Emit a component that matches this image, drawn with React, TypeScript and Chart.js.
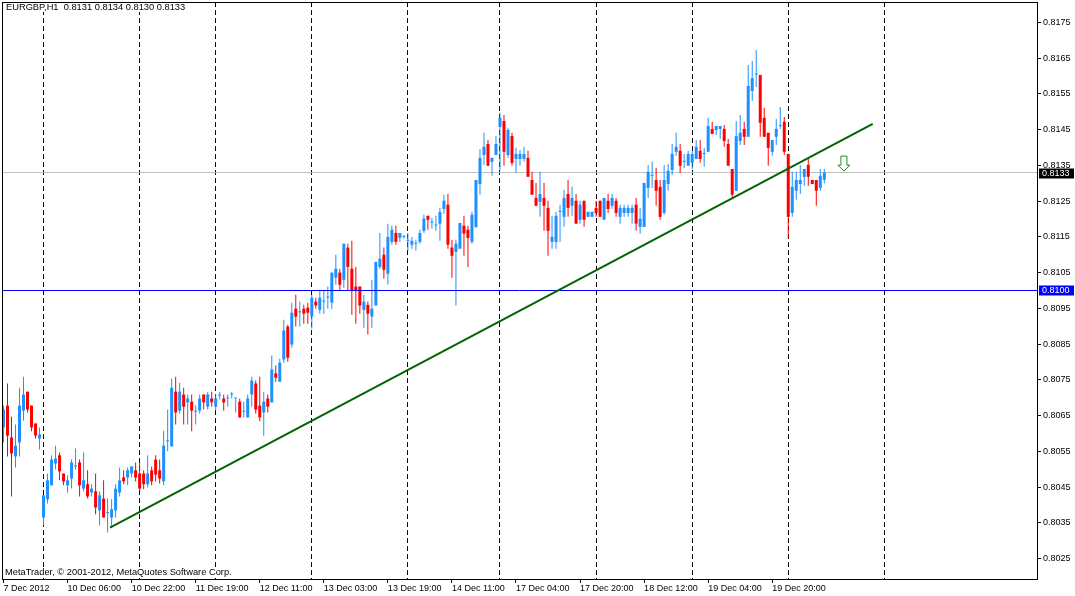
import { useEffect, useRef } from "react";
import { Chart, registerables } from "chart.js";

Chart.register(...registerables);

const symbolLabel = "EURGBP,H1";
const copyright = "MetaTrader, © 2001-2012, MetaQuotes Software Corp.";

const opens = [
  0.80617, 0.80678, 0.80589, 0.80536, 0.80575, 0.80664, 0.80717, 0.80678, 0.80628, 0.80586,
  0.80365, 0.80416, 0.80455, 0.80516, 0.80539, 0.80488, 0.80455, 0.80474, 0.80508, 0.80519,
  0.80446, 0.80458, 0.80435, 0.80438, 0.80385, 0.80418, 0.80377, 0.80365, 0.80385, 0.80435,
  0.80477, 0.80477, 0.80488, 0.80497, 0.80488, 0.80488, 0.80458, 0.80497, 0.80527, 0.80497,
  0.80466, 0.80578, 0.80564, 0.80717, 0.80664, 0.80709, 0.80687, 0.80689, 0.80661, 0.80664,
  0.80709, 0.80675, 0.80698, 0.80675, 0.80706, 0.80698, 0.80698, 0.80709, 0.80698, 0.80689,
  0.80661, 0.80645, 0.80709, 0.8074, 0.80678, 0.80659, 0.80698, 0.80687, 0.80768, 0.80745,
  0.80807, 0.80899, 0.80849, 0.80949, 0.80939, 0.80949, 0.80952, 0.80927, 0.80969, 0.80946,
  0.80969, 0.8098, 0.80966, 0.81036, 0.8105, 0.8103, 0.8112, 0.81061, 0.81011, 0.81011,
  0.80946, 0.8096, 0.80927, 0.80958, 0.81066, 0.811, 0.81047, 0.81136, 0.81161, 0.81147,
  0.8115, 0.81139, 0.81128, 0.81131, 0.81136, 0.81167, 0.81209, 0.8119, 0.81182, 0.81187,
  0.81228, 0.8124, 0.8112, 0.81108, 0.81117, 0.81181, 0.8117, 0.81136, 0.81178, 0.81298,
  0.81379, 0.8141, 0.8136, 0.81379, 0.81458, 0.81474, 0.81379, 0.81432, 0.81368, 0.81368,
  0.81368, 0.81371, 0.81309, 0.81259, 0.81248, 0.81259, 0.81231, 0.81136, 0.81136, 0.8122,
  0.81206, 0.8127, 0.81237, 0.81251, 0.81198, 0.81251, 0.81206, 0.81206, 0.81231, 0.81251,
  0.81198, 0.81251, 0.81237, 0.81251, 0.81206, 0.81217, 0.81217, 0.81217, 0.8124, 0.81178,
  0.81178, 0.81287, 0.81321, 0.81309, 0.8129, 0.81217, 0.81298, 0.81337, 0.81388, 0.81391,
  0.8136, 0.81349, 0.81357, 0.81368, 0.81391, 0.81382, 0.81388, 0.81452, 0.81449, 0.81452,
  0.81452, 0.8141, 0.8134, 0.81279, 0.81418, 0.81452, 0.8143, 0.81558, 0.81604, 0.81603,
  0.81483, 0.81441, 0.81388, 0.8143, 0.8146, 0.81472, 0.81382, 0.81217, 0.81279, 0.81298,
  0.81318, 0.81351, 0.81309, 0.81309, 0.81287, 0.8131,
];

const highs = [
  0.80678, 0.8074, 0.80647, 0.80625, 0.80728, 0.80759, 0.80717, 0.80678, 0.80628, 0.80617,
  0.80427, 0.80488, 0.80539, 0.80566, 0.80547, 0.80488, 0.80483, 0.80527, 0.80558, 0.80527,
  0.80547, 0.80497, 0.80458, 0.80488, 0.80438, 0.80469, 0.80418, 0.80416, 0.80458, 0.80505,
  0.80497, 0.80505, 0.80508, 0.80519, 0.80519, 0.80497, 0.80539, 0.80508, 0.80539, 0.80527,
  0.80608, 0.80667, 0.80754, 0.80759, 0.80742, 0.80728, 0.80709, 0.80709, 0.80678, 0.80709,
  0.80709, 0.80717, 0.80717, 0.80709, 0.80717, 0.80709, 0.80709, 0.80717, 0.80698, 0.80698,
  0.80689, 0.80709, 0.80759, 0.80748, 0.80759, 0.80717, 0.80709, 0.80818, 0.8079, 0.80809,
  0.80918, 0.80904, 0.80966, 0.80988, 0.80969, 0.8096, 0.80966, 0.80988, 0.8098, 0.81002,
  0.81002, 0.81011, 0.8105, 0.811, 0.81061, 0.81131, 0.81131, 0.81139, 0.81066, 0.81011,
  0.80988, 0.80969, 0.8103, 0.8108, 0.81161, 0.8112, 0.81187, 0.81181, 0.81181, 0.81161,
  0.81156, 0.81161, 0.8115, 0.81142, 0.8117, 0.81212, 0.81209, 0.81203, 0.81209, 0.81231,
  0.81268, 0.8127, 0.81142, 0.81142, 0.81189, 0.81209, 0.81181, 0.8122, 0.81309, 0.81396,
  0.81441, 0.81421, 0.81371, 0.81432, 0.81497, 0.81491, 0.81455, 0.81441, 0.81399, 0.81393,
  0.81402, 0.81391, 0.81332, 0.81301, 0.81332, 0.81301, 0.81251, 0.81209, 0.8122, 0.8124,
  0.81282, 0.81309, 0.8129, 0.8127, 0.81251, 0.81251, 0.8122, 0.8122, 0.81251, 0.81251,
  0.81259, 0.8127, 0.8127, 0.81259, 0.8124, 0.8124, 0.8124, 0.8124, 0.81259, 0.81231,
  0.81301, 0.81351, 0.8136, 0.81343, 0.81309, 0.81351, 0.81354, 0.8141, 0.81441, 0.8141,
  0.81382, 0.81391, 0.81391, 0.81421, 0.81421, 0.81399, 0.81483, 0.81472, 0.8146, 0.8146,
  0.81463, 0.81424, 0.8134, 0.81474, 0.81491, 0.81472, 0.81631, 0.81642, 0.81673, 0.81603,
  0.81511, 0.81441, 0.81421, 0.8148, 0.81513, 0.81485, 0.81382, 0.81332, 0.81332, 0.81351,
  0.8134, 0.81368, 0.81309, 0.81309, 0.8134, 0.8134,
];

const lows = [
  0.80575, 0.80536, 0.80424, 0.80505, 0.80536, 0.80636, 0.80659, 0.80606, 0.80586, 0.80555,
  0.80343, 0.80404, 0.80455, 0.80499, 0.80469, 0.80455, 0.80435, 0.80446, 0.80499, 0.80424,
  0.80438, 0.80418, 0.80424, 0.80374, 0.80343, 0.80365, 0.80323, 0.80337, 0.80365, 0.80424,
  0.80458, 0.80455, 0.80477, 0.80466, 0.80438, 0.80444, 0.80449, 0.80455, 0.80466, 0.8046,
  0.80455, 0.8055, 0.80564, 0.80625, 0.80656, 0.80625, 0.80625, 0.80606, 0.80625, 0.80656,
  0.80667, 0.80667, 0.80675, 0.80664, 0.80695, 0.80664, 0.80675, 0.80698, 0.80659, 0.80645,
  0.80645, 0.80645, 0.80675, 0.80656, 0.80634, 0.80594, 0.80659, 0.80687, 0.80745, 0.80745,
  0.80798, 0.80801, 0.8084, 0.80899, 0.80899, 0.80907, 0.80907, 0.80893, 0.80949, 0.80935,
  0.80935, 0.80949, 0.80949, 0.81016, 0.80999, 0.81008, 0.80999, 0.80932, 0.80907, 0.80935,
  0.80896, 0.80877, 0.80896, 0.80958, 0.81061, 0.81033, 0.81016, 0.81128, 0.81128, 0.81136,
  0.81145, 0.81111, 0.81117, 0.81111, 0.81131, 0.81161, 0.8117, 0.81173, 0.81167, 0.81139,
  0.81215, 0.81117, 0.81036, 0.80958, 0.81117, 0.81097, 0.81066, 0.81131, 0.81175, 0.81268,
  0.81351, 0.81349, 0.81321, 0.81379, 0.81337, 0.81349, 0.81371, 0.81349, 0.81329, 0.81349,
  0.8136, 0.81318, 0.81268, 0.81237, 0.81206, 0.81167, 0.81097, 0.81117, 0.81117, 0.81136,
  0.81178, 0.81206, 0.81209, 0.81187, 0.81187, 0.81178, 0.81206, 0.81206, 0.81206, 0.81206,
  0.81198, 0.81217, 0.81228, 0.81206, 0.81187, 0.81206, 0.81206, 0.81187, 0.81167, 0.81159,
  0.81178, 0.81259, 0.81287, 0.81237, 0.81198, 0.81212, 0.81279, 0.81323, 0.81377, 0.81329,
  0.81343, 0.81349, 0.8134, 0.81368, 0.81357, 0.81346, 0.81388, 0.81438, 0.81435, 0.81424,
  0.81402, 0.81349, 0.81256, 0.81279, 0.81407, 0.81407, 0.8143, 0.8153, 0.81569, 0.8143,
  0.8143, 0.81349, 0.81377, 0.81407, 0.81452, 0.81379, 0.81147, 0.81206, 0.81254, 0.8127,
  0.81293, 0.81293, 0.81298, 0.81237, 0.81279, 0.813,
];

const closes = [
  0.80667, 0.80594, 0.80544, 0.80566, 0.80678, 0.80709, 0.80667, 0.80617, 0.80594, 0.80597,
  0.80427, 0.80469, 0.80527, 0.8053, 0.80494, 0.80466, 0.80469, 0.80519, 0.80508, 0.80455,
  0.80469, 0.80424, 0.80446, 0.80393, 0.80427, 0.80365, 0.80377, 0.80388, 0.80446, 0.80469,
  0.80466, 0.80497, 0.80508, 0.80477, 0.80446, 0.80458, 0.80488, 0.80466, 0.80485, 0.80474,
  0.80566, 0.80578, 0.80728, 0.80659, 0.80717, 0.80675, 0.80698, 0.80664, 0.80661, 0.80698,
  0.80687, 0.80709, 0.80687, 0.80698, 0.80706, 0.80687, 0.80698, 0.80709, 0.80698, 0.80645,
  0.80661, 0.80698, 0.80748, 0.80667, 0.80645, 0.80689, 0.80675, 0.80779, 0.80756, 0.80798,
  0.80888, 0.80812, 0.80938, 0.80927, 0.80939, 0.80935, 0.80938, 0.8098, 0.80958, 0.8098,
  0.80969, 0.8098, 0.8105, 0.81061, 0.81016, 0.81131, 0.81066, 0.80999, 0.80999, 0.80958,
  0.80969, 0.80935, 0.80949, 0.8108, 0.81089, 0.81058, 0.8115, 0.8117, 0.81136, 0.81161,
  0.8115, 0.81139, 0.81139, 0.81131, 0.81161, 0.81201, 0.81198, 0.8119, 0.81182, 0.8122,
  0.81251, 0.81128, 0.81097, 0.81131, 0.81189, 0.81159, 0.81147, 0.81212, 0.81309, 0.81371,
  0.81402, 0.81349, 0.81371, 0.8141, 0.81483, 0.81388, 0.81449, 0.81357, 0.81382, 0.81382,
  0.81382, 0.81318, 0.81268, 0.81237, 0.8127, 0.81237, 0.81167, 0.8115, 0.81209, 0.8122,
  0.81259, 0.81231, 0.81259, 0.81187, 0.8124, 0.81198, 0.8122, 0.8122, 0.81217, 0.81206,
  0.81259, 0.81228, 0.81259, 0.81217, 0.81231, 0.81231, 0.81231, 0.81231, 0.81187, 0.81201,
  0.81301, 0.81332, 0.81321, 0.81279, 0.81206, 0.81309, 0.81335, 0.81382, 0.81402, 0.81349,
  0.8136, 0.81382, 0.81382, 0.81402, 0.81368, 0.81382, 0.8146, 0.81438, 0.8146, 0.8146,
  0.81418, 0.81349, 0.81268, 0.81432, 0.81441, 0.8143, 0.81572, 0.81594, 0.81604, 0.81469,
  0.8143, 0.81399, 0.81421, 0.81452, 0.8146, 0.81388, 0.81206, 0.8129, 0.81309, 0.81309,
  0.8134, 0.81318, 0.81298, 0.81279, 0.81321, 0.8133,
];

const tickIndex = [0, 16, 32, 48, 64, 80, 96, 112, 128, 144, 160, 176, 192];
const tickLabels = [
  "7 Dec 2012", "10 Dec 06:00", "10 Dec 22:00", "11 Dec 19:00", "12 Dec 11:00",
  "13 Dec 03:00", "13 Dec 19:00", "14 Dec 11:00", "17 Dec 04:00", "17 Dec 20:00",
  "18 Dec 12:00", "19 Dec 04:00", "19 Dec 20:00",
];
const daySeparators = [10, 34, 53, 77, 101, 124, 148, 172, 196, 220];
const priceTicks = [
  0.8025, 0.8035, 0.8045, 0.8055, 0.8065, 0.8075, 0.8085, 0.8095,
  0.8105, 0.8115, 0.8125, 0.8135, 0.8145, 0.8155, 0.8165, 0.8175,
];
const trendX = [26.6, 217.1];
const trendY = [0.80337, 0.81466];
const levelPrice = 0.81;
const bidPrice = 0.8133;
const arrowIndex = 209.9;
const arrowPrice = 0.81334;
const xMin = -0.375;
const xMax = 258.125;
const yMin = 0.80193;
const yMax = 0.81807;

const BULL = "#1E90FF";
const BEAR = "#FF0000";
const FONT = "'Liberation Sans', Arial, sans-serif";

export default function App() {
  const ref = useRef<HTMLCanvasElement | null>(null);

  useEffect(() => {
    const canvas = ref.current;
    if (!canvas) return;
    const colors = closes.map((c, i) => (c >= opens[i] ? BULL : BEAR));
    const n = opens.length;

    const overlay = {
      id: "mtOverlay",
      beforeDatasetsDraw(chart: any) {
        const { ctx, chartArea, scales } = chart;
        ctx.save();
        ctx.strokeStyle = "#000";
        ctx.lineWidth = 1;
        ctx.setLineDash([5, 3]);
        daySeparators.forEach((d) => {
          const x = Math.round(scales.x.getPixelForValue(d) - 0.5) + 0.5;
          if (x > chartArea.right) return;
          ctx.beginPath();
          ctx.moveTo(x, chartArea.top);
          ctx.lineTo(x, chartArea.bottom);
          ctx.stroke();
        });
        ctx.restore();
      },
      afterDraw(chart: any) {
        const { ctx, chartArea, scales } = chart;
        ctx.save();
        ctx.strokeStyle = "#000";
        ctx.lineWidth = 1;
        ctx.strokeRect(chartArea.left + 0.5, chartArea.top + 0.5, chartArea.right - chartArea.left, chartArea.bottom - chartArea.top);

        const ax = scales.x.getPixelForValue(arrowIndex);
        const ay = scales.y.getPixelForValue(arrowPrice);
        ctx.beginPath();
        ctx.moveTo(ax, ay);
        ctx.lineTo(ax - 6, ay - 6);
        ctx.lineTo(ax - 3, ay - 6);
        ctx.lineTo(ax - 3, ay - 15);
        ctx.lineTo(ax + 3, ay - 15);
        ctx.lineTo(ax + 3, ay - 6);
        ctx.lineTo(ax + 6, ay - 6);
        ctx.closePath();
        ctx.fillStyle = "#fff";
        ctx.fill();
        ctx.strokeStyle = "#228B22";
        ctx.stroke();

        ctx.font = `9px ${FONT}`;
        ctx.textBaseline = "middle";
        ctx.textAlign = "left";
        const boxes: [number, string][] = [
          [levelPrice, "#0000FF"],
          [bidPrice, "#000000"],
        ];
        boxes.forEach(([p, bg]) => {
          const y = scales.y.getPixelForValue(p);
          ctx.fillStyle = bg;
          ctx.fillRect(chartArea.right + 2, Math.round(y) - 4.5, 35, 10);
          ctx.fillStyle = "#fff";
          ctx.fillText(p.toFixed(4), chartArea.right + 5, y + 0.5);
        });

        ctx.textBaseline = "alphabetic";
        ctx.font = `9.3px ${FONT}`;
        const last = n - 1;
        const header = `${symbolLabel}  ${opens[last].toFixed(4)} ${highs[last].toFixed(4)} ${lows[last].toFixed(4)} ${closes[last].toFixed(4)}`;
        const hw = ctx.measureText(header).width;
        ctx.fillStyle = "#fff";
        ctx.fillRect(5, 3, hw + 2, 9);
        ctx.fillStyle = "#000";
        ctx.fillText(header, 6, 10);
        const cw = ctx.measureText(copyright).width;
        ctx.fillStyle = "#fff";
        ctx.fillRect(4, 567, cw + 2, 10);
        ctx.fillStyle = "#000";
        ctx.fillText(copyright, 5, 575);
        ctx.restore();
      },
    };

    const chart = new Chart(canvas, {
      type: "bar",
      data: {
        datasets: [
          {
            type: "line",
            data: [
              { x: trendX[0], y: trendY[0] },
              { x: trendX[1], y: trendY[1] },
            ],
            borderColor: "#006400",
            borderWidth: 2,
            pointRadius: 0,
            order: 0,
          } as any,
          {
            type: "line",
            data: [
              { x: xMin, y: levelPrice },
              { x: xMax, y: levelPrice },
            ],
            borderColor: "#0000FF",
            borderWidth: 1,
            pointRadius: 0,
            order: 1,
          } as any,
          {
            type: "line",
            data: [
              { x: xMin, y: bidPrice },
              { x: xMax, y: bidPrice },
            ],
            borderColor: "#C0C0C0",
            borderWidth: 1,
            pointRadius: 0,
            order: 4,
          } as any,
          {
            type: "bar",
            data: opens.map((o, i) => ({ x: i, y: [o, closes[i]] })),
            backgroundColor: colors,
            barThickness: 3,
            minBarLength: 1,
            grouped: false,
            borderWidth: 0,
            inflateAmount: 0,
            order: 2,
          } as any,
          {
            type: "bar",
            data: lows.map((l, i) => ({ x: i, y: [l, highs[i]] })),
            backgroundColor: colors,
            barThickness: 1,
            minBarLength: 1,
            grouped: false,
            borderWidth: 0,
            inflateAmount: 0,
            order: 3,
          } as any,
        ],
      },
      options: {
        animation: false,
        responsive: false,
        maintainAspectRatio: false,
        layout: { padding: { left: 2, top: 2, right: 0, bottom: 0 } },
        plugins: {
          legend: { display: false },
          tooltip: { enabled: false },
        },
        scales: {
          x: {
            type: "linear",
            min: xMin,
            max: xMax,
            offset: false,
            afterFit: (s: any) => {
              s.height = 17;
              s.paddingLeft = 0;
              s.paddingRight = 0;
              s.paddingTop = 0;
              s.paddingBottom = 0;
            },
            afterBuildTicks: (s: any) => {
              s.ticks = tickIndex.map((v) => ({ value: v }));
            },
            grid: {
              offset: false,
              drawOnChartArea: false,
              drawTicks: true,
              tickLength: 4,
              color: "#000",
              tickColor: "#000",
            },
            border: { display: false },
            ticks: {
              autoSkip: false,
              maxRotation: 0,
              minRotation: 0,
              align: "start",
              padding: 0,
              color: "#000",
              font: { family: FONT, size: 9 },
              callback: (_v: any, i: number) => tickLabels[i],
            },
          } as any,
          y: {
            type: "linear",
            position: "right",
            min: yMin,
            max: yMax,
            beginAtZero: false,
            afterFit: (s: any) => {
              s.width = 38;
              s.paddingLeft = 0;
              s.paddingRight = 0;
              s.paddingTop = 0;
              s.paddingBottom = 0;
            },
            afterBuildTicks: (s: any) => {
              s.ticks = priceTicks.map((v) => ({ value: v }));
            },
            grid: {
              drawOnChartArea: false,
              drawTicks: true,
              tickLength: 4,
              color: "#000",
              tickColor: "#000",
            },
            border: { display: false },
            ticks: {
              padding: 2,
              color: "#000",
              font: { family: FONT, size: 9 },
              callback: (v: any) => Number(v).toFixed(4),
            },
          } as any,
        },
      },
      plugins: [overlay],
    } as any);

    return () => chart.destroy();
  }, []);

  return (
    <div style={{ position: "absolute", left: 0, top: 0, width: 1075, height: 596, background: "#fff" }}>
      <canvas ref={ref} width={1075} height={596} style={{ display: "block" }} />
    </div>
  );
}
